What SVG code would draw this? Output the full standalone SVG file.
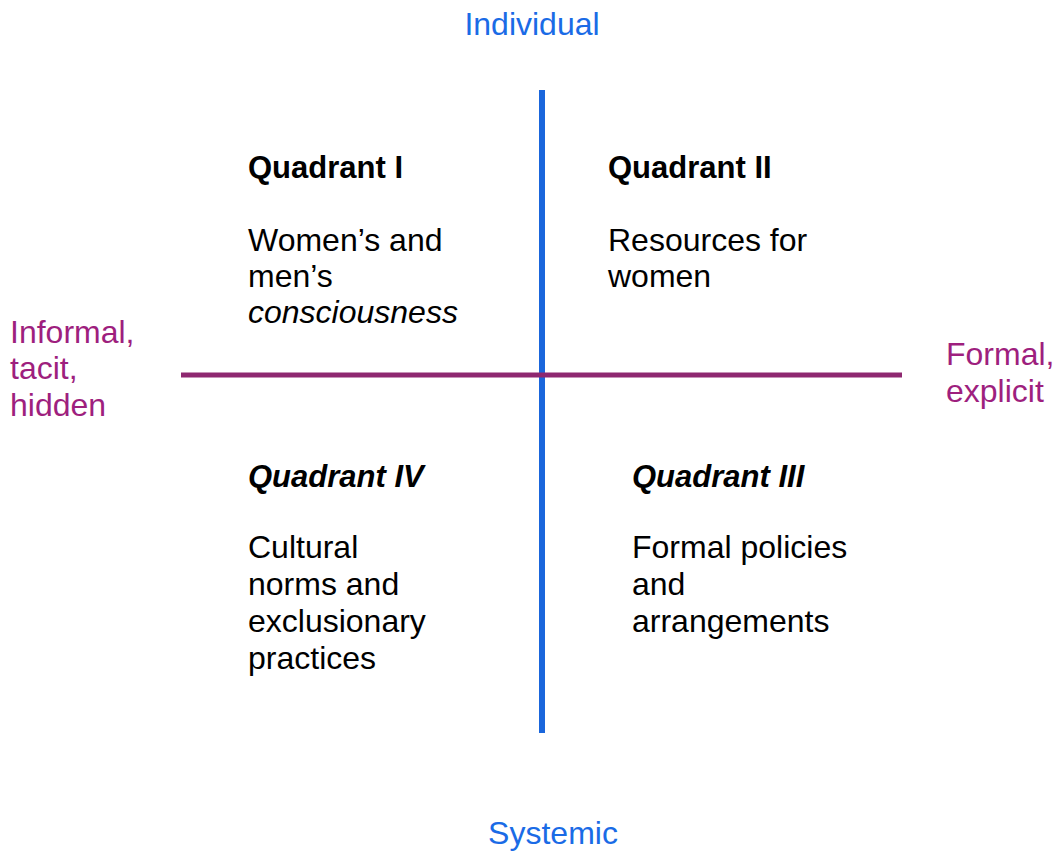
<svg xmlns="http://www.w3.org/2000/svg" width="1055" height="851" viewBox="0 0 1055 851">
<style>
text{font-family:"Liberation Sans",Arial,sans-serif;font-size:32px}
.axisb{fill:#1a6be6}
.axism{fill:#9e1f7e}
.t{font-weight:bold;font-size:31px;fill:#000}
.b{fill:#000}
.i{font-style:italic}
</style>
<rect width="1055" height="851" fill="#fff"/>
<g id="connectors">
<line x1="542" y1="90" x2="542" y2="733" stroke="#1a66dc" stroke-width="6"/>
<line x1="181" y1="375" x2="902" y2="375" stroke="#8e2870" stroke-width="5"/>
</g>
<g id="axis-individual"><text class="axisb" x="532" y="35" text-anchor="middle">Individual</text></g>
<g id="axis-systemic"><text class="axisb" x="553" y="844" text-anchor="middle">Systemic</text></g>
<g id="axis-informal"><text class="axism" x="10" y="343">Informal,</text><text class="axism" x="10" y="379">tacit,</text><text class="axism" x="10" y="416">hidden</text></g>
<g id="axis-formal"><text class="axism" x="946" y="365">Formal,</text><text class="axism" x="946" y="402">explicit</text></g>
<g id="q1"><text class="t" x="248" y="178">Quadrant I</text><text class="b" x="248" y="251">Women’s and</text><text class="b" x="248" y="287">men’s</text><text class="b i" x="248" y="323">consciousness</text></g>
<g id="q2"><text class="t" x="608" y="178">Quadrant II</text><text class="b" x="608" y="251">Resources for</text><text class="b" x="608" y="287">women</text></g>
<g id="q4"><text class="t i" x="248" y="487">Quadrant IV</text><text class="b" x="248" y="558">Cultural</text><text class="b" x="248" y="595">norms and</text><text class="b" x="248" y="632">exclusionary</text><text class="b" x="248" y="669">practices</text></g>
<g id="q3"><text class="t i" x="632" y="487">Quadrant III</text><text class="b" x="632" y="558">Formal policies</text><text class="b" x="632" y="595">and</text><text class="b" x="632" y="632">arrangements</text></g>
</svg>
